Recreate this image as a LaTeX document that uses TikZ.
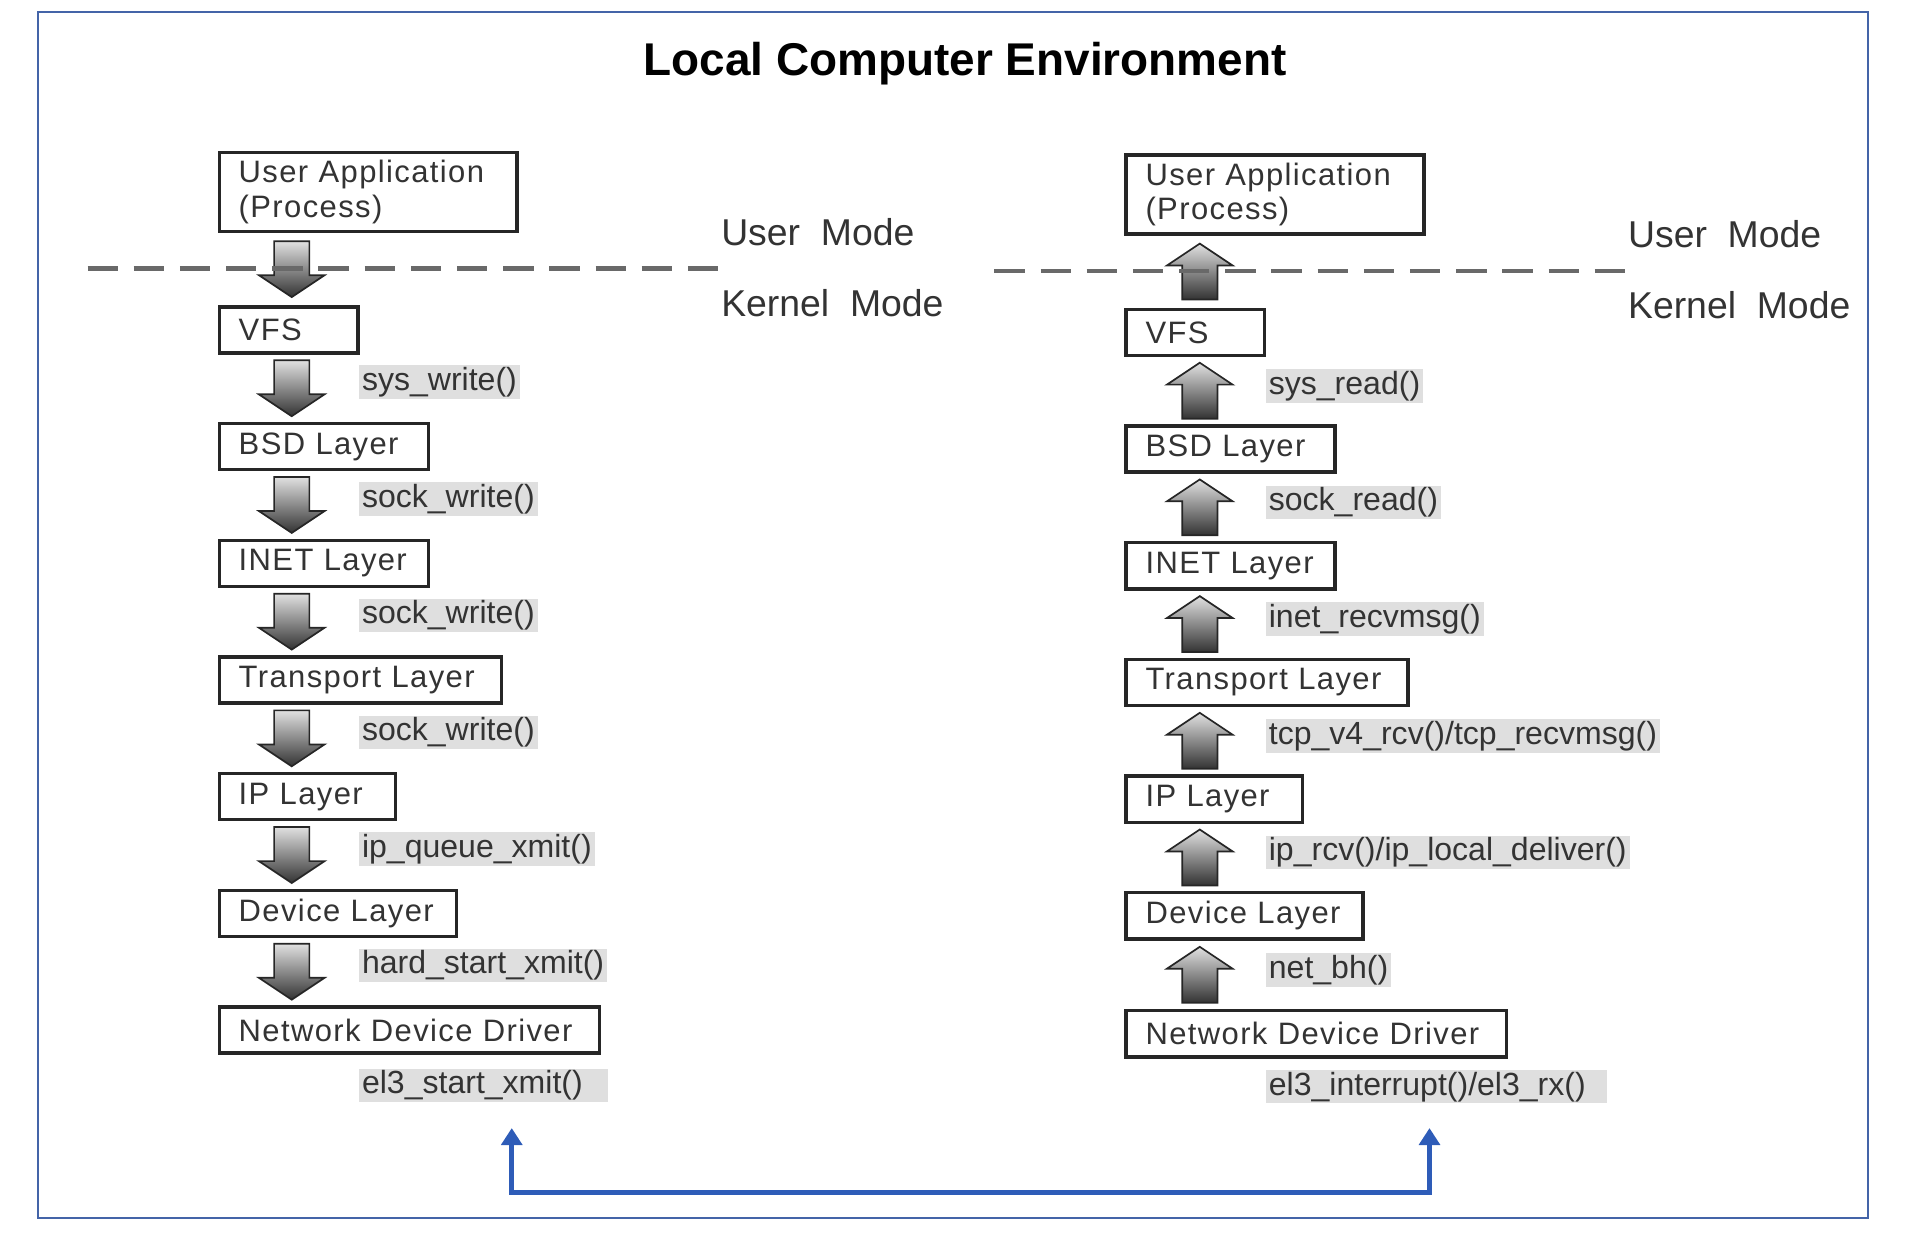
\documentclass[tikz,border=0pt]{standalone}
\usepackage{fontspec}
\setmainfont{Liberation Sans}
\newfontfamily\boxfont[WordSpace=2,LetterSpace=4.5]{Liberation Sans}
\newfontfamily\modefont[WordSpace=2]{Liberation Sans}
\usetikzlibrary{calc,arrows.meta}
\definecolor{framecol}{RGB}{68,100,168}
\definecolor{linkblue}{RGB}{46,92,184}
\definecolor{sepgray}{RGB}{105,105,105}

\tikzset{
  dnarrow/.pic={\draw[blockarrow] (-14.5,-23) -- (14.5,-23) -- (14.5,5) -- (27,5) -- (0,23) -- (-27,5) -- (-14.5,5) -- cycle;},
  uparrow/.pic={\draw[blockarrow] (-14.5,23) -- (14.5,23) -- (14.5,-5) -- (27,-5) -- (0,-23) -- (-27,-5) -- (-14.5,-5) -- cycle;}
}

\begin{document}
\begin{tikzpicture}[x=0.02cm,y=-0.02cm,
  layer/.style={draw=black!85,line width=1.6pt,fill=white,anchor=north west,align=left,
    inner xsep=3.2mm,inner ysep=0pt,minimum height=7.6mm,text width=#1,text=black!80,
    font=\boxfont\fontsize{14.5}{16}\selectfont},
  fn/.style={fill=gray!25,text=black!80,anchor=west,inner xsep=0.5mm,inner ysep=0.3mm,
    font=\fontsize{15}{17}\selectfont},
  mode/.style={anchor=west,inner sep=0pt,text=black!80,font=\modefont\fontsize{17.5}{20}\selectfont},
  sep/.style={draw=sepgray,line width=0.75mm,dash pattern=on 5mm off 2.6mm},
  blockarrow/.style={draw=black!85,line width=0.8pt,top color=black!12,bottom color=black!80},
  link/.style={draw=linkblue,line width=0.8mm,{Triangle[width=3.4mm,length=2.8mm]}-{Triangle[width=3.4mm,length=2.8mm]}}]
\useasboundingbox (0,0) rectangle (1568,1018);
\draw[framecol,line width=0.9pt] (31,10) rectangle (1537,1002);
\node[font=\bfseries\fontsize{21.5}{24}\selectfont] (title) at (794,52) {Local Computer Environment};

\node[layer=42.6mm,minimum height=13mm] (lua) at (179,124) {User Application\\(Process)};
\node[layer=16.4mm] (lvfs) at (179,251) {VFS};
\node[layer=28mm] (lbsd) at (179,347) {BSD Layer};
\node[layer=28mm] (linet) at (179,443) {INET Layer};
\node[layer=40mm] (ltp) at (179,539) {Transport Layer};
\node[layer=22.6mm] (lip) at (179,635) {IP Layer};
\node[layer=32.6mm] (ldev) at (179,731) {Device Layer};
\node[layer=56.2mm] (lndd) at (179,827) {Network Device Driver};

\node[layer=42.6mm,minimum height=13mm] (rua) at (925,126) {User Application\\(Process)};
\node[layer=16.4mm] (rvfs) at (925,253) {VFS};
\node[layer=28mm] (rbsd) at (925,349) {BSD Layer};
\node[layer=28mm] (rinet) at (925,445) {INET Layer};
\node[layer=40mm] (rtp) at (925,541) {Transport Layer};
\node[layer=22.6mm] (rip) at (925,637) {IP Layer};
\node[layer=32.6mm] (rdev) at (925,733) {Device Layer};
\node[layer=56.2mm] (rndd) at (925,830) {Network Device Driver};

\pic at ($(lua.south west)!0.5!(lvfs.north west)+(61,0)$) {dnarrow};
\foreach \a/\b/\lbl in {vfs/bsd/{sys\_write()},bsd/inet/{sock\_write()},inet/tp/{sock\_write()},
    tp/ip/{sock\_write()},ip/dev/{ip\_queue\_xmit()},dev/ndd/{hard\_start\_xmit()}}{
  \coordinate (ld\b) at ($(l\a.south west)!0.5!(l\b.north west)+(61,0)$);
  \pic at (ld\b) {dnarrow};
  \node[fn] (lf\b) at ($(ld\b)+(55,-5)$) {\lbl};
}
\pic at ($(rua.south west)!0.5!(rvfs.north west)+(62,0)$) {uparrow};
\foreach \a/\b/\lbl in {vfs/bsd/{sys\_read()},bsd/inet/{sock\_read()},inet/tp/{inet\_recvmsg()},
    tp/ip/{tcp\_v4\_rcv()/tcp\_recvmsg()},ip/dev/{ip\_rcv()/ip\_local\_deliver()},dev/ndd/{net\_bh()}}{
  \coordinate (rd\b) at ($(r\a.south west)!0.5!(r\b.north west)+(62,0)$);
  \pic at (rd\b) {uparrow};
  \node[fn] (rf\b) at ($(rd\b)+(54,-4)$) {\lbl};
}
\node[fn] (lel3) at (295,893) {el3\_start\_xmit()\kern3.6mm};
\node[fn] (rel3) at (1041,894) {el3\_interrupt()/el3\_rx()\kern3mm};

\draw[sep] (72,221) -- (600,221);
\draw[sep] (818,223) -- (1347,223);
\node[mode] (lum) at (593,191) {User Mode};
\node[mode] (lkm) at (593,249) {Kernel Mode};
\node[mode] (rum) at (1339,193) {User Mode};
\node[mode] (rkm) at (1339,251) {Kernel Mode};

\coordinate (lsend) at (421,928);
\coordinate (rrecv) at (1176,928);
\draw[link] (lsend) -- ++(0,53) -| (rrecv);
\end{tikzpicture}
\end{document}
